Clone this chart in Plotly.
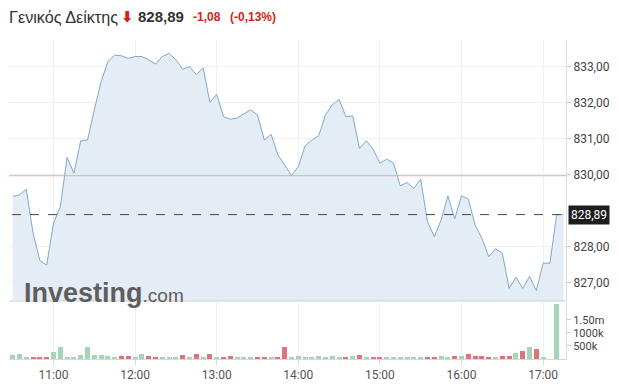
import pandas as pd
import plotly.graph_objects as go

# ---- data (5-minute bars, 10:30 .. 17:15) ----
start_time = "2024-01-02 10:30:00"
prices = [829.39, 829.44, 829.59, 828.37, 827.61, 827.49, 828.65, 829.11, 830.48, 830.04,
          830.94, 830.96, 831.80, 832.58, 833.14, 833.32, 833.30, 833.23, 833.28, 833.28,
          833.19, 833.07, 833.28, 833.37, 833.19, 832.93, 833.00, 832.77, 832.97, 832.01,
          832.23, 831.61, 831.54, 831.57, 831.69, 831.80, 831.66, 830.96, 831.12, 830.55,
          830.27, 829.97, 830.22, 830.80, 830.96, 831.08, 831.66, 831.94, 832.09, 831.61,
          831.63, 830.73, 830.94, 830.71, 830.32, 830.43, 830.32, 829.69, 829.78, 829.62,
          829.87, 828.69, 828.28, 828.74, 829.41, 828.77, 829.41, 829.32, 828.60, 828.23,
          827.72, 827.94, 827.82, 826.84, 827.15, 826.84, 827.17, 826.78, 827.54, 827.54,
          828.89, 828.89]
volumes_k = [155, 195, 70, 85, 40, 40, 280, 445, 70, 55,
             155, 445, 155, 155, 110, 85, 110, 110, 70, 180,
             110, 40, 70, 70, 55, 155, 40, 195, 85, 210,
             40, 40, 125, 40, 40, 40, 40, 40, 40, 85,
             460, 55, 125, 40, 40, 110, 95, 125, 40, 85,
             110, 165, 85, 85, 85, 70, 40, 55, 55, 55,
             40, 85, 70, 125, 40, 125, 125, 195, 125, 110,
             85, 85, 125, 125, 235, 290, 460, 375, 40, 0,
             2100]
directions = list("uuuddduuuu" "uuuuuudduu" "dduuududud" "udduuuddud"
                  "duuuuuuuud" "ududduuuuu" "udduududdd" "duddududuu" "u")
last_price = 828.89
prev_close = 829.97
price_ticks = [827, 828, 830, 831, 832, 833]
vol_ticks = [500000, 1000000, 1500000]
vol_tick_text = ["500k", "1000k", "1.50m"]
hour_ticks = ["11:00", "12:00", "13:00", "14:00", "15:00", "16:00", "17:00"]

times = pd.date_range(start_time, periods=len(prices), freq="5min")
vtimes = times[:len(volumes_k)]
volumes = [v * 1000 for v in volumes_k]
GREEN = "#a6d4b6"
RED = "#d9757d"
vcolors = [GREEN if d == "u" else RED for d in directions]

W, H = 619, 392
L, R, T, B = 9, 53, 40, 33
plot_h = H - T - B


def py2paper(py):
    return (H - B - py) / plot_h


def px2paper(px):
    return (px - L) / (W - L - R)


price_dom = [py2paper(301), 1.0]
vol_dom = [0.0, py2paper(302)]

fig = go.Figure()
fig.add_trace(go.Scatter(
    x=times, y=prices, mode="lines", line=dict(color="#82a7c9", width=1),
    fill="tozeroy", fillcolor="#e4edf6", xaxis="x", yaxis="y", hoverinfo="skip"))
fig.add_trace(go.Bar(
    x=vtimes, y=volumes, marker=dict(color=vcolors, line=dict(width=0)),
    width=215000, xaxis="x", yaxis="y2", hoverinfo="skip"))

day = start_time[:10]
fig.update_layout(
    width=W, height=H, margin=dict(l=L, r=R, t=T, b=B),
    paper_bgcolor="white", plot_bgcolor="white", showlegend=False,
    separators=",.",
    font=dict(family="Roboto", size=12, color="#444"),
    xaxis=dict(
        type="date", anchor="y2",
        range=[f"{day} 10:27:17", f"{day} 17:16:50"],
        tickvals=[f"{day} {h}:00" for h in hour_ticks],
        ticktext=hour_ticks,
        showgrid=True, gridcolor="#f0f0f0", gridwidth=1,
        ticks="outside", ticklen=5, tickcolor="#dddddd",
        showline=True, linecolor="#d8d8d8", linewidth=1,
        tickfont=dict(family="Roboto", size=12, color="#555"),
        zeroline=False, fixedrange=True),
    yaxis=dict(
        domain=price_dom, side="right", anchor="x",
        range=[826.49, 833.74],
        tickvals=price_ticks, tickformat=".2f",
        showgrid=True, gridcolor="#f1f1f1",
        ticks="outside", ticklen=4, tickcolor="#cccccc",
        showline=True, linecolor="#dddddd",
        tickfont=dict(family="Roboto", size=12, color="#444"),
        zeroline=False),
    yaxis2=dict(
        domain=vol_dom, side="right", anchor="x",
        range=[0, 2190000],
        tickvals=vol_ticks, ticktext=vol_tick_text,
        showgrid=False,
        ticks="outside", ticklen=4, tickcolor="#cccccc",
        showline=True, linecolor="#dddddd",
        tickfont=dict(family="Roboto", size=11, color="#444"),
        zeroline=False),
    bargap=0,
)

# previous close (red) and last price (dashed)
fig.add_shape(type="line", xref="paper", x0=0, x1=1, yref="y",
              y0=prev_close, y1=prev_close, line=dict(color="#f2a3a3", width=1))
fig.add_shape(type="line", xref="paper", x0=px2paper(12), x1=1, yref="y",
              y0=last_price, y1=last_price,
              line=dict(color="#444", width=1, dash="dash"))
# separator between panes
fig.add_shape(type="line", xref="paper", x0=0, x1=1, yref="paper",
              y0=price_dom[0], y1=price_dom[0], line=dict(color="#cfcfcf", width=1))

fig.add_annotation(x=1, xref="paper", xanchor="left", xshift=2,
                   y=last_price, yref="y", yanchor="middle",
                   text=f"{last_price:.2f}".replace(".", ","), showarrow=False,
                   bgcolor="#1e1e1e", borderpad=2,
                   font=dict(family="Roboto", size=12, color="white"))

# header
hdr_y = py2paper(17)
fig.add_annotation(x=px2paper(7), y=hdr_y, xref="paper", yref="paper",
                   xanchor="left", yanchor="middle", showarrow=False,
                   text="Γενικός Δείκτης",
                   font=dict(family="Liberation Sans", size=16.2, color="#333"))
fig.add_annotation(x=px2paper(119), y=hdr_y, xref="paper", yref="paper",
                   xanchor="left", yanchor="middle", showarrow=False,
                   text="<b>⬇</b>", font=dict(family="DejaVu Sans", size=15, color="#d91e18"))
fig.add_annotation(x=px2paper(136), y=hdr_y, xref="paper", yref="paper",
                   xanchor="left", yanchor="middle", showarrow=False,
                   text="<b>828,89</b>",
                   font=dict(family="Liberation Sans", size=15, color="#333"))
fig.add_annotation(x=px2paper(191), y=hdr_y, xref="paper", yref="paper",
                   xanchor="left", yanchor="middle", showarrow=False,
                   text="<b>-1,08</b>",
                   font=dict(family="Liberation Sans", size=12, color="#d91e18"))
fig.add_annotation(x=px2paper(228), y=hdr_y, xref="paper", yref="paper",
                   xanchor="left", yanchor="middle", showarrow=False,
                   text="<b>(-0,13%)</b>",
                   font=dict(family="Liberation Sans", size=12, color="#d91e18"))

# watermark logo
fig.add_annotation(x=px2paper(22), y=py2paper(293), xref="paper", yref="paper",
                   xanchor="left", yanchor="middle", showarrow=False,
                   text="<b>Investing</b><span style='font-size:19px;font-weight:normal'>.com</span>",
                   font=dict(family="Liberation Sans", size=27, color="#5e5e5e"))

fig.write_html("out.html")
